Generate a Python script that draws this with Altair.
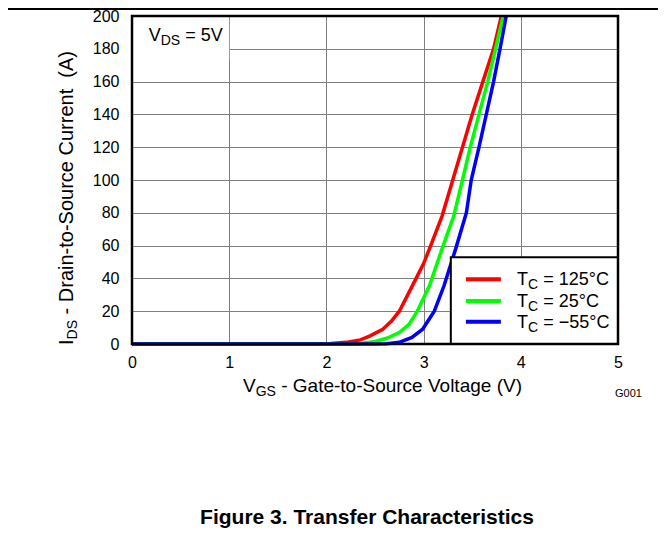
import altair as alt
import pandas as pd

FONT = "Liberation Sans"
NB = "\u00a0"

# ---------------- data ----------------
x_ticks = [0, 1, 2, 3, 4, 5]
y_ticks = [0, 20, 40, 60, 80, 100, 120, 140, 160, 180, 200]
x_domain = [0, 5]
y_domain = [0, 200]

series_names = ["125", "25", "-55"]
series_colors = ["#ff0000", "#00ff00", "#0000ff"]

red_v = [0, 1.9, 2.05, 2.2, 2.35, 2.45, 2.58, 2.67, 2.75, 2.88, 3.0, 3.06, 3.19, 3.30, 3.40, 3.50, 3.61, 3.72, 3.80]
red_i = [0, 0, 0.3, 1, 2.5, 5, 9, 14, 20, 35, 49, 58, 78, 100, 120, 140, 160, 180, 200]

green_v = [0, 2.2, 2.35, 2.5, 2.62, 2.75, 2.85, 2.935, 3.06, 3.19, 3.31, 3.40, 3.48, 3.57, 3.66, 3.74, 3.82]
green_i = [0, 0, 0.3, 1.5, 3.5, 7, 12, 20, 35.5, 58, 78, 100, 120, 140, 160, 180, 200]

blue_v = [0, 2.5, 2.62, 2.75, 2.88, 2.99, 3.11, 3.21, 3.33, 3.44, 3.49, 3.57, 3.645, 3.72, 3.786, 3.85]
blue_i = [0, 0, 0.2, 1, 4, 9, 20, 35.5, 58, 80, 100, 120, 140, 160, 180, 200]

legend_rest = ["= 125°C", "= 25°C", "= \u221255°C"]
legend_line_y = [39.5, 26.2, 13.6]
legend_sym_x = [3.435, 3.795]
legend_text_x = 3.962
legend_box_x = [3.28, 5.0]
legend_box_y = [0, 52.9]

label_box_x = [0, 1]
label_box_y = [173.2, 200]
vds_pos = [0.172, 184.8]

# ---------------- helpers ----------------
W = {"V": .667, "D": .722, "S": .667, "=": .584, " ": .278, NB: .278, "5": .556, "1": .556, "2": .556,
     "G": .778, "-": .333, "a": .556, "t": .278, "e": .556, "o": .556, "u": .556, "r": .333,
     "c": .5, "l": .222, "g": .556, "(": .333, ")": .333, "I": .278, "i": .222, "n": .556,
     "C": .722, "A": .667, "T": .611, "°": .4, "\u2212": .584}


def tw(s, size):
    return sum(W.get(ch, 0.556) for ch in s) * size


one = pd.DataFrame({"a": [0]})
xs = alt.Scale(domain=x_domain, nice=False, zero=False)
ys = alt.Scale(domain=y_domain, nice=False, zero=False)

x_axis = alt.Axis(values=x_ticks, title=None, grid=True, ticks=False, domain=False, format="d",
                  labelFontSize=16, labelFont=FONT, labelColor="black", labelPadding=10,
                  gridColor="#808080", gridWidth=1, labelFlush=False, labelOverlap=False)
y_axis = alt.Axis(values=y_ticks, title=None, grid=True, ticks=False, domain=False, format="d",
                  labelFontSize=16, labelFont=FONT, labelColor="black", labelPadding=13,
                  gridColor="#808080", gridWidth=1, labelFlush=False, labelOverlap=False)


def X(f):
    return alt.X(f, scale=xs, axis=x_axis)


def Y(f):
    return alt.Y(f, scale=ys, axis=y_axis)


def pixel_label(parts, px, py, angle=0):
    # parts: (text, size, baseline shift, leading gap in px)
    out = []
    off = 0.0
    for txt, size, shift, gap in parts:
        off += gap
        out.append(alt.Chart(one).mark_text(
            text=txt, font=FONT, fontSize=size, dx=off, dy=shift, align="left",
            baseline="alphabetic", angle=angle, color="black").encode(
            x=alt.value(px), y=alt.value(py)))
        off += tw(txt, size)
    return out


def data_label(parts, xv, yv):
    out = []
    off = 0.0
    d = pd.DataFrame({"V": [xv], "I": [yv]})
    for txt, size, shift, gap in parts:
        off += gap
        out.append(alt.Chart(d).mark_text(
            text=txt, font=FONT, fontSize=size, dx=off, dy=shift, align="left",
            baseline="alphabetic", color="black").encode(x=X("V:Q"), y=Y("I:Q")))
        off += tw(txt, size)
    return out


# ---------------- curves ----------------
rows = []
for name, vs, cs in [("125", red_v, red_i), ("25", green_v, green_i), ("-55", blue_v, blue_i)]:
    for k, (v, c) in enumerate(zip(vs, cs)):
        rows.append({"T": name, "V": v, "I": c, "k": k})
curves = pd.DataFrame(rows)

color_scale = alt.Scale(domain=series_names, range=series_colors)

lines = alt.Chart(curves).mark_line(strokeWidth=3.5).encode(
    x=X("V:Q"), y=Y("I:Q"),
    color=alt.Color("T:N", scale=color_scale, legend=None),
    order="k:Q",
)

# white box behind V_DS label
wb_df = pd.DataFrame({"V": [label_box_x[0]], "V2": [label_box_x[1]],
                      "I": [label_box_y[0]], "I2": [label_box_y[1]]})
white_box = alt.Chart(wb_df).mark_rect(color="white").encode(
    x=X("V:Q"), x2="V2", y=Y("I:Q"), y2="I2")

# legend
lb_df = pd.DataFrame({"V": [legend_box_x[0]], "V2": [legend_box_x[1]],
                      "I": [legend_box_y[0]], "I2": [legend_box_y[1]]})
legend_box = alt.Chart(lb_df).mark_rect(fill="white", stroke="black", strokeWidth=2).encode(
    x=X("V:Q"), x2="V2", y=Y("I:Q"), y2="I2")

leg_df = pd.DataFrame({"T": series_names, "I": legend_line_y, "rest": legend_rest,
                       "V": [legend_sym_x[0]] * 3, "V2": [legend_sym_x[1]] * 3,
                       "Vt": [legend_text_x] * 3})
legend_lines = alt.Chart(leg_df).mark_rule(strokeWidth=4).encode(
    x=X("V:Q"), x2="V2", y=Y("I:Q"),
    color=alt.Color("T:N", scale=color_scale, legend=None))
t_w = tw("T", 18)
c_w = tw("C", 14)
sp = tw(" ", 18)
leg_t = alt.Chart(leg_df).mark_text(text="T", font=FONT, fontSize=18, align="left",
                                    baseline="alphabetic", dy=6, color="black").encode(
    x=X("Vt:Q"), y=Y("I:Q"))
leg_c = alt.Chart(leg_df).mark_text(text="C", font=FONT, fontSize=14, align="left",
                                    baseline="alphabetic", dx=t_w, dy=10, color="black").encode(
    x=X("Vt:Q"), y=Y("I:Q"))
leg_r = alt.Chart(leg_df).mark_text(font=FONT, fontSize=18, align="left",
                                    baseline="alphabetic", dx=t_w + c_w + sp, dy=6, color="black").encode(
    x=X("Vt:Q"), y=Y("I:Q"), text="rest:N")

# plot border
bd_df = pd.DataFrame({"V": [x_domain[0]], "V2": [x_domain[1]], "I": [y_domain[0]], "I2": [y_domain[1]]})
border = alt.Chart(bd_df).mark_rect(fillOpacity=0, stroke="black", strokeWidth=2.5).encode(
    x=X("V:Q"), x2="V2", y=Y("I:Q"), y2="I2")

layers = [lines, white_box, legend_box, legend_lines, leg_t, leg_c, leg_r, border]
layers += data_label([("V", 18, 0, 0), ("DS", 14, 4, 0), ("= 5V", 18, 0, tw(" ", 18))],
                     vds_pos[0], vds_pos[1])
layers += pixel_label([("V", 19, 0, 0), ("GS", 14, 4, 0),
                       ("- Gate-to-Source Voltage (V)", 19, 0, tw(" ", 19))], 111, 376)
layers += pixel_label([("I", 20, 0, 0), ("DS", 14, 4, 0),
                       ("- Drain-to-Source Current" + NB + NB + "(A)", 20, 0, tw(" ", 20))],
                      -59, 329, angle=270)

top_line = alt.Chart(one).mark_rule(color="black", strokeWidth=2).encode(
    x=alt.value(-124), x2=alt.value(530), y=alt.value(-7))
g001 = alt.Chart(one).mark_text(text="G001", font=FONT, fontSize=11, align="left",
                                baseline="alphabetic", color="black").encode(
    x=alt.value(483), y=alt.value(381))
fig_title = alt.Chart(one).mark_text(text="Figure 3. Transfer Characteristics", font=FONT,
                                     fontSize=21, fontWeight="bold", align="center",
                                     baseline="alphabetic", color="black").encode(
    x=alt.value(235), y=alt.value(508))
layers += [top_line, g001, fig_title]

chart = alt.layer(*layers).properties(
    width=486, height=328,
    padding={"left": 124, "top": 8, "right": 40, "bottom": 188},
    autosize=alt.AutoSizeParams(type="none"),
).configure_view(strokeWidth=0).configure(background="white")

chart.save("out.html", embed_options={"renderer": "svg", "actions": False})
